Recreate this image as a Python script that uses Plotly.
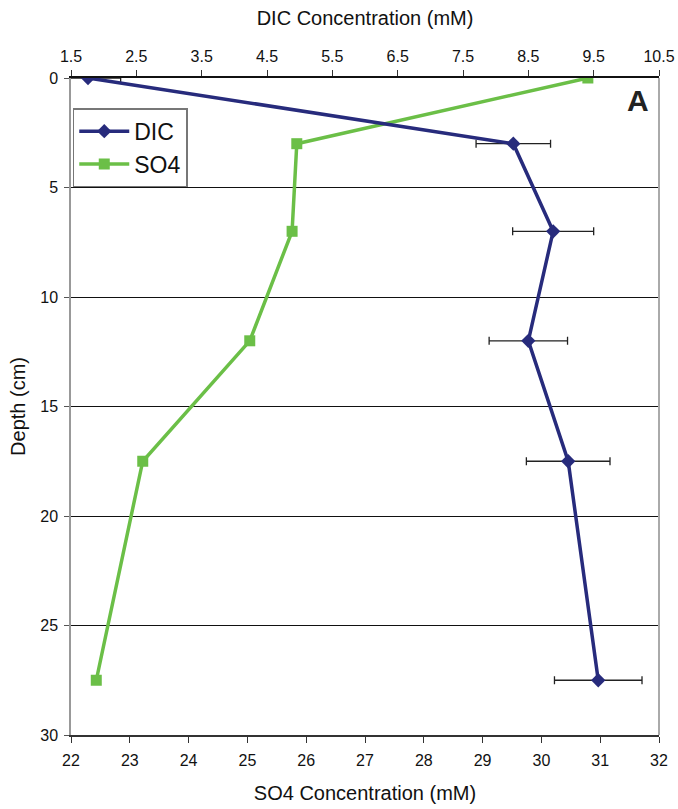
import plotly.graph_objects as go

depth = [0, 3, 7, 12, 17.5, 27.5]
dic = [1.76, 8.27, 8.88, 8.50, 9.11, 9.57]
dic_err = [0.5, 0.57, 0.62, 0.60, 0.64, 0.67]
so4 = [30.79, 25.84, 25.76, 25.04, 23.22, 22.43]

so4_ticks = list(range(22, 33))
dic_ticks = [1.5, 2.5, 3.5, 4.5, 5.5, 6.5, 7.5, 8.5, 9.5, 10.5]
depth_ticks = [0, 5, 10, 15, 20, 25, 30]

NAVY = "#272B7C"
GREEN = "#6BBF47"
FONT = "Liberation Sans, Arial, sans-serif"

fig = go.Figure()
fig.add_trace(go.Scatter(
    x=dic, y=depth, name="DIC", xaxis="x2", yaxis="y",
    mode="lines+markers",
    line=dict(color=NAVY, width=3.5),
    marker=dict(symbol="diamond", size=11, color=NAVY),
    error_x=dict(type="data", array=dic_err, color="#222222", thickness=1.3, width=4),
))
fig.add_trace(go.Scatter(
    x=so4, y=depth, name="SO4", xaxis="x", yaxis="y",
    mode="lines+markers",
    line=dict(color=GREEN, width=3.5),
    marker=dict(symbol="square", size=11, color=GREEN),
))

fig.update_layout(
    width=678, height=809,
    margin=dict(l=71, r=19, t=78, b=74),
    paper_bgcolor="white", plot_bgcolor="white",
    font=dict(family=FONT, color="#111111", size=15),
    showlegend=True,
    legend=dict(x=0.003, y=0.954, xanchor="left", yanchor="top",
                bgcolor="white", bordercolor="#777777", borderwidth=1.5,
                font=dict(size=23, family=FONT), tracegroupgap=8,
                itemwidth=50),
    xaxis=dict(range=[22, 32], tickvals=so4_ticks, ticks="outside",
               ticklen=6, tickcolor="#333333", showline=True, linecolor="#333333",
               linewidth=2, showgrid=False, zeroline=False, automargin=False,
               ticklabelstandoff=4,
               title=dict(text="SO4 Concentration (mM)", font=dict(size=20), standoff=18),
               tickfont=dict(size=16), mirror=False),
    xaxis2=dict(range=[1.5, 10.5], tickvals=dic_ticks, ticktext=[str(t) for t in dic_ticks],
                overlaying="x", side="top", ticks="outside", ticklen=6,
                tickcolor="#333333", showline=True, linecolor="#111111", linewidth=1.5,
                showgrid=False, zeroline=False, automargin=False,
                ticklabelstandoff=2,
                title=dict(text="DIC Concentration (mM)", font=dict(size=20), standoff=17),
                tickfont=dict(size=16)),
    yaxis=dict(range=[30, 0], tickvals=depth_ticks, ticks="outside", ticklen=5,
               tickcolor="#555555", showline=True, linecolor="#999999", linewidth=1.5,
               showgrid=True, gridcolor="#111111", gridwidth=1.2, zeroline=False,
               automargin=False, ticklabelstandoff=3,
               title=dict(text="Depth (cm)", font=dict(size=20), standoff=9),
               tickfont=dict(size=16)),
    shapes=[dict(type="line", xref="paper", yref="paper", x0=1, x1=1, y0=0, y1=1,
                 line=dict(color="#AAAAAA", width=2))],
    annotations=[dict(text="<b>A</b>", xref="paper", yref="paper", x=0.965, y=0.965,
                      xanchor="center", yanchor="middle", showarrow=False,
                      font=dict(size=30, family=FONT, color="#222222"))],
)

fig.write_html("out.html")
